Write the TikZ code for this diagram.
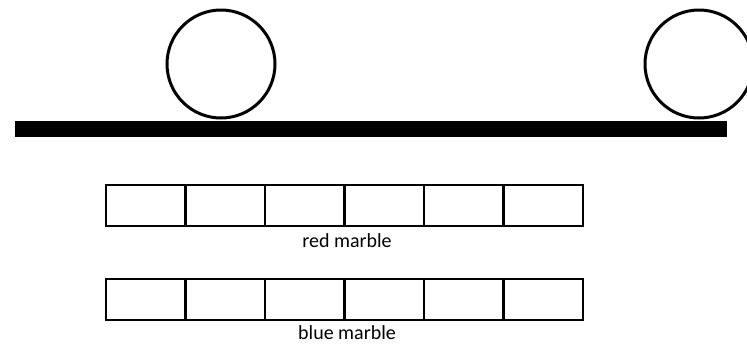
\documentclass[tikz,border=0pt]{standalone}
\usepackage{fontspec}
\setmainfont{Carlito}
\begin{document}
\begin{tikzpicture}[x=0.75pt,y=-0.75pt,
  marble/.style={draw=black,line width=2.25pt,circle,minimum size=81pt,inner sep=0pt},
  cell/.style={draw=black,line width=1.5pt,rectangle,minimum width=59.6pt,minimum height=30.75pt,inner sep=0pt},
  caption/.style={font=\fontsize{15pt}{18pt}\selectfont,inner sep=0pt,anchor=base}]
\useasboundingbox (0,0) rectangle (747,344);
\clip (0,0) rectangle (747,344);
\fill[white] (0,0) rectangle (747,344);
\node[marble] (m1) at (221,64) {};
\node[marble] (m2) at (699,64) {};
\node[fill=black,inner sep=0pt,minimum width=534pt,minimum height=12pt] (bar) at (371,129) {};
\foreach \i in {0,...,5}{
  \node[cell] (r\i) at ({106+79.5*(\i+0.5)},205.5) {};
  \node[cell] (b\i) at ({106+79.5*(\i+0.5)},299.5) {};
}
\node[caption] (rl) at (347,247) {red marble};
\node[caption] (bl) at (347,339) {blue marble};
\end{tikzpicture}
\end{document}
